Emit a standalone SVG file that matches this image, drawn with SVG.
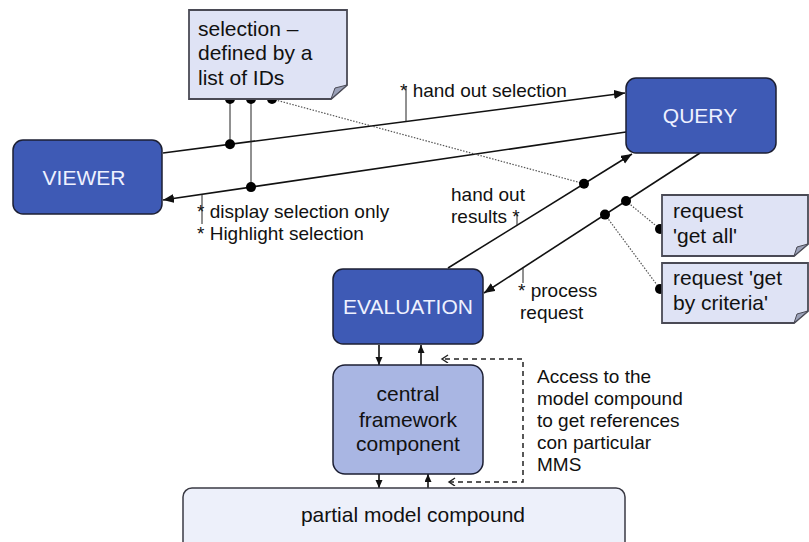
<svg xmlns="http://www.w3.org/2000/svg" width="809" height="542" viewBox="0 0 809 542">
  <style>
    .box { fill: #3e5ab5; stroke: #1c1f33; stroke-width: 1.5; }
    .boxlabel { font-family: "Liberation Sans", Arial, sans-serif; font-size: 21px; fill: #eef1ff; text-anchor: middle; }
    .lightbox { fill: #a9b6e3; stroke: #1c1f33; stroke-width: 1.5; }
    .darktext { font-family: "Liberation Sans", Arial, sans-serif; font-size: 21px; fill: #111; }
    .note { fill: #dfe3f5; stroke: #4a4a55; stroke-width: 1.8; }
    .fold { fill: #9ba1b8; stroke: #4a4a55; stroke-width: 1; }
    .ann { font-family: "Liberation Sans", Arial, sans-serif; font-size: 19px; fill: #111; }
    .conn { stroke: #111; stroke-width: 1.6; fill: none; }
    .tick { stroke: #222; stroke-width: 1; fill: none; }
    .dotted { stroke: #555; stroke-width: 1.2; stroke-dasharray: 1.5 1.5; fill: none; }
    .dashed { stroke: #222; stroke-width: 1.5; stroke-dasharray: 5 4; fill: none; }
    .dot { fill: #000; }
  </style>
  <defs>
    <marker id="arrow" markerUnits="userSpaceOnUse" markerWidth="12" markerHeight="10" refX="11" refY="4.5" orient="auto">
      <path d="M0,0 L11,4.5 L0,9 Z" fill="#111"/>
    </marker>
    <marker id="arrowSmall" markerUnits="userSpaceOnUse" markerWidth="9" markerHeight="8" refX="8" refY="3.5" orient="auto">
      <path d="M0,0 L8,3.5 L0,7 Z" fill="#111"/>
    </marker>
    <marker id="openArrow" markerUnits="userSpaceOnUse" markerWidth="10" markerHeight="10" refX="7" refY="4" orient="auto-start-reverse">
      <path d="M1,0 L7,4 L1,8" fill="none" stroke="#222" stroke-width="1.4"/>
    </marker>
  </defs>

  <!-- Connectors -->
  <g id="connectors">
    <!-- VIEWER -> QUERY: hand out selection -->
    <line class="conn" x1="163" y1="153" x2="625" y2="93" marker-end="url(#arrow)"/>
    <!-- QUERY -> VIEWER: display / highlight -->
    <line class="conn" x1="626" y1="132" x2="163" y2="200" marker-end="url(#arrow)"/>
    <!-- EVALUATION -> QUERY: hand out results -->
    <line class="conn" x1="448" y1="268" x2="632" y2="154" marker-end="url(#arrow)"/>
    <!-- QUERY -> EVALUATION: process request -->
    <line class="conn" x1="700" y1="153" x2="484" y2="293" marker-end="url(#arrow)"/>

    <!-- links from the selection note -->
    <line class="tick" x1="230" y1="99" x2="230" y2="144.3"/>
    <line class="tick" x1="251" y1="99" x2="251" y2="187.1"/>
    <line class="dotted" x1="272" y1="99" x2="584" y2="183.7"/>

    <!-- links to the request notes -->
    <line class="dotted" x1="626" y1="201" x2="660" y2="229"/>
    <line class="dotted" x1="605" y1="214.6" x2="660" y2="289"/>

    <!-- annotation ticks -->
    <line class="tick" x1="406" y1="86" x2="406" y2="121.4"/>
    <line class="tick" x1="202" y1="194.3" x2="202" y2="224"/>
    <line class="tick" x1="517" y1="214" x2="517" y2="225.2"/>
    <line class="tick" x1="523" y1="267.7" x2="523" y2="283"/>

    <!-- junction dots -->
    <circle class="dot" cx="230" cy="99" r="5"/>
    <circle class="dot" cx="251" cy="99" r="5"/>
    <circle class="dot" cx="272" cy="99" r="5"/>
    <circle class="dot" cx="230" cy="144.3" r="5"/>
    <circle class="dot" cx="251" cy="187.1" r="5"/>
    <circle class="dot" cx="584" cy="183.7" r="5"/>
    <circle class="dot" cx="626" cy="201" r="5"/>
    <circle class="dot" cx="605" cy="214.6" r="5"/>
    <circle class="dot" cx="660" cy="229" r="5"/>
    <circle class="dot" cx="660" cy="289" r="5"/>

    <!-- EVALUATION <-> central framework -->
    <line class="conn" x1="379" y1="345" x2="379" y2="365" marker-end="url(#arrowSmall)"/>
    <line class="conn" x1="421" y1="365" x2="421" y2="345" marker-end="url(#arrowSmall)"/>
    <!-- central framework <-> partial model compound -->
    <line class="conn" x1="379" y1="474" x2="379" y2="488" marker-end="url(#arrowSmall)"/>
    <line class="conn" x1="428" y1="488" x2="428" y2="474" marker-end="url(#arrowSmall)"/>

    <!-- access to the model compound -->
    <path class="dashed" d="M449,482 H523 V359 H442" marker-start="url(#openArrow)" marker-end="url(#openArrow)"/>
  </g>

  <!-- Annotations -->
  <g id="annotations">
    <text class="ann" x="400" y="97">* hand out selection</text>
    <text class="ann" x="197" y="218">* display selection only</text>
    <text class="ann" x="197" y="240">* Highlight selection</text>
    <text class="ann" x="451" y="201">hand out</text>
    <text class="ann" x="451" y="223">results *</text>
    <text class="ann" x="518" y="297">* process</text>
    <text class="ann" x="520" y="319">request</text>
    <text class="ann" x="537" y="383">Access to the</text>
    <text class="ann" x="537" y="405">model compound</text>
    <text class="ann" x="537" y="427">to get references</text>
    <text class="ann" x="537" y="449">con particular</text>
    <text class="ann" x="537" y="471">MMS</text>
  </g>

  <!-- Nodes -->
  <g id="viewer">
    <rect class="box" x="13" y="140" width="149" height="74" rx="10"/>
    <text class="boxlabel" x="84" y="185">VIEWER</text>
  </g>

  <g id="query">
    <rect class="box" x="626" y="78" width="150" height="75" rx="10"/>
    <text class="boxlabel" x="700" y="123">QUERY</text>
  </g>

  <g id="evaluation">
    <rect class="box" x="333" y="269" width="150" height="75" rx="10"/>
    <text class="boxlabel" x="408" y="314">EVALUATION</text>
  </g>

  <g id="central-framework">
    <rect class="lightbox" x="333" y="365" width="150" height="109" rx="12"/>
    <text class="darktext" x="408" y="401" text-anchor="middle">central</text>
    <text class="darktext" x="408" y="427" text-anchor="middle">framework</text>
    <text class="darktext" x="408" y="451" text-anchor="middle">component</text>
  </g>

  <g id="partial-model-compound">
    <rect x="183" y="488" width="442" height="70" rx="9" fill="#edf0fa" stroke="#3a3a44" stroke-width="1.5"/>
    <text class="darktext" x="413" y="522" text-anchor="middle">partial model compound</text>
  </g>

  <g id="selection-note">
    <path class="note" d="M189,10 H347 V85 L331,99 H189 Z"/>
    <path class="fold" d="M331,99 L335,88 L347,85 Z"/>
    <text class="darktext" x="198" y="36">selection –</text>
    <text class="darktext" x="198" y="60">defined by a</text>
    <text class="darktext" x="198" y="85">list of IDs</text>
  </g>

  <g id="request-get-all">
    <path class="note" d="M662,195 H808 V244 L794,256 H662 Z"/>
    <path class="fold" d="M794,256 L797,247 L808,244 Z"/>
    <text class="darktext" x="673" y="218">request</text>
    <text class="darktext" x="673" y="243">'get all'</text>
  </g>

  <g id="request-by-criteria">
    <path class="note" d="M662,263 H808 V311 L794,323 H662 Z"/>
    <path class="fold" d="M794,323 L797,314 L808,311 Z"/>
    <text class="darktext" x="673" y="285">request 'get</text>
    <text class="darktext" x="673" y="310">by criteria'</text>
  </g>
</svg>
